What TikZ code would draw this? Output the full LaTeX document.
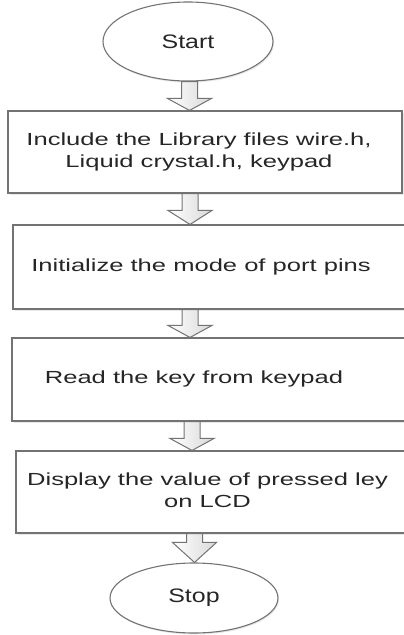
\documentclass[tikz,border=0pt]{standalone}
\usepackage{fontspec}
\setmainfont{Liberation Sans}
\usepackage{graphicx}
\usetikzlibrary{shapes.geometric,shadows,calc}
\definecolor{linegray}{gray}{0.45}
\definecolor{txtgray}{gray}{0.15}

% text of the flow boxes is wide, as in the original drawing
\newcommand{\widetext}[2][1.46]{\scalebox{#1}[1]{\begin{tabular}{@{}c@{}}#2\end{tabular}}}
% block arrow: x position, from node, to node, head length
\newcommand{\flowarrow}[4]{%
	\path (#1,0|-#2.south) coordinate (fa-top) (#1,0|-#3.north) coordinate (fa-tip);
	\draw[arrowbody] ($(fa-top)+(-8,0)$) -- ($(fa-tip)+(-8,-#4)$) -- ($(fa-tip)+(-22,-#4)$) -- (fa-tip)
		-- ($(fa-tip)+(22,-#4)$) -- ($(fa-tip)+(8,-#4)$) -- ($(fa-top)+(8,0)$) -- cycle;}

\begin{document}
\begin{tikzpicture}[x=1pt,y=-1pt,
	procbox/.style={rectangle,draw=linegray,line width=1.1pt,fill=white,inner sep=0pt,
		text=txtgray,font=\fontsize{17.5}{22}\selectfont,
		drop shadow={shadow xshift=1.5pt,shadow yshift=-1.5pt,fill=gray!18,opacity=1}},
	termnode/.style={ellipse,draw=linegray,line width=1.1pt,fill=white,inner sep=0pt,
		text=txtgray,font=\fontsize{19.5}{24}\selectfont,
		drop shadow={shadow xshift=1pt,shadow yshift=-1.5pt,fill=gray!18,opacity=1}},
	arrowbody/.style={draw=linegray,line width=1pt,left color=white,right color=gray!30,line join=miter}]
	\useasboundingbox (0,0) rectangle (404,635);
	\clip (0,0) rectangle (404,635);
	
	% start and stop
	\node[termnode,minimum width=170,minimum height=79] (start) at (188,41.5) {\scalebox{1.28}[1]{Start}};
	\node[termnode,minimum width=168,minimum height=70] (stop) at (194,598) {\scalebox{1.28}[1]{Stop}};
	
	% draw boxes
	\node[procbox,minimum width=394,minimum height=82] (incl) at (205,152)
		{\widetext{Include the Library files wire.h,\\Liquid crystal.h, keypad}\hspace*{12pt}};
	\node[procbox,minimum width=407,minimum height=84] (init) at (216.5,267)
		{\widetext{Initialize the mode of port pins}\hspace*{31pt}};
	\node[procbox,minimum width=408,minimum height=83] (readkey) at (216,379.5)
		{\widetext{Read the key from keypad}\hspace*{44pt}};
	\node[procbox,minimum width=404,minimum height=82] (disp) at (218,492)
		{\widetext{Display the value of pressed ley\\on LCD}\hspace*{21pt}};
	
	% draw arrows
	\flowarrow{189.5}{start}{incl}{12}
	\flowarrow{190}{incl}{init}{14}
	\flowarrow{190}{init}{readkey}{12}
	\flowarrow{192}{readkey}{disp}{12}
	\flowarrow{194.5}{disp}{stop}{20}
\end{tikzpicture}
\end{document}
